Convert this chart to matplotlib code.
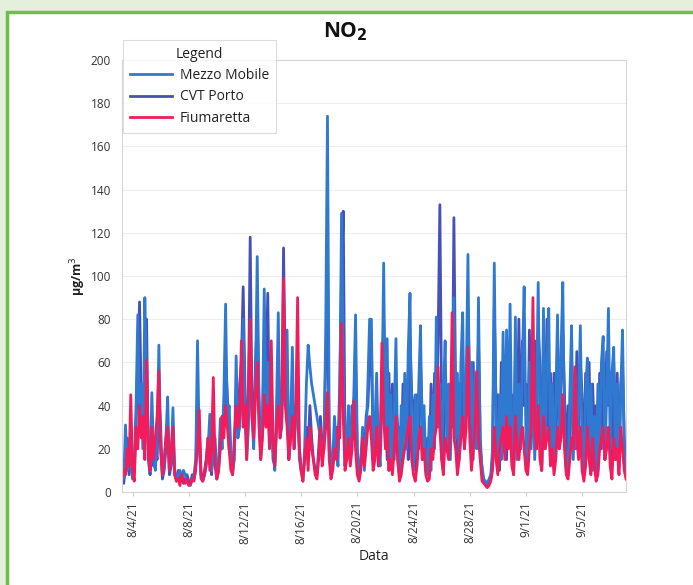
import matplotlib
matplotlib.use("Agg")
import matplotlib.pyplot as plt
import matplotlib.dates as mdates
from matplotlib.patches import Rectangle
import pandas as pd

# 3-hourly readings, from 3 Aug 2021 06:00 to 8 Sep 2021 03:00
inizio = "2021-08-03 06:00"

mezzo_mobile = [
    8, 6, 31, 10, 20, 12,                 # 8/3
    6, 15, 40, 82, 30, 50, 20, 90,        # 8/4
    50, 20, 10, 46, 15, 10, 25, 68,
    20, 8, 12, 25, 44, 10, 15, 39,
    10, 5, 8, 10, 6, 10, 8, 5,
    4, 3, 6, 8, 15, 70, 20, 6,            # 8/8
    5, 8, 12, 20, 36, 10, 15, 25,
    8, 12, 34, 20, 45, 87, 30, 40,
    20, 10, 15, 63, 25, 30, 45, 80,
    40, 15, 30, 70, 35, 20, 50, 109,      # 8/12
    45, 20, 35, 94, 40, 60, 25, 50,
    20, 10, 40, 83, 25, 30, 70, 40,
    75, 20, 30, 67, 20, 35, 52, 15,
    10, 5, 20, 50, 68, 58, 50, 45,        # 8/16
    40, 35, 30, 25, 22, 20, 75, 174,
    30, 10, 15, 35, 20, 12, 40, 129,
    60, 12, 25, 40, 15, 30, 45, 82,
    20, 8, 15, 30, 10, 25, 50, 80,        # 8/20
    80, 15, 30, 55, 20, 12, 40, 106,
    30, 71, 10, 45, 10, 35, 71, 15,
    8, 40, 15, 55, 20, 66, 92, 20,
    10, 45, 15, 50, 77, 15, 40, 10,       # 8/24
    8, 35, 10, 45, 20, 81, 30, 50,
    15, 45, 70, 20, 50, 15, 60, 90,
    25, 55, 15, 60, 83, 20, 50, 110,
    30, 60, 15, 55, 20, 90, 20, 12,       # 8/28
    6, 5, 4, 6, 8, 20, 106, 30,
    10, 45, 15, 74, 20, 75, 25, 87,
    20, 8, 81, 15, 50, 20, 60, 95,
    25, 10, 60, 20, 55, 15, 40, 97,       # 9/1
    30, 10, 85, 20, 60, 85, 15, 50,
    15, 40, 82, 20, 65, 97, 25, 10,
    8, 45, 77, 15, 55, 20, 40, 77,
    20, 8, 45, 62, 15, 50, 10, 35,        # 9/5
    8, 50, 20, 60, 72, 15, 45, 85,
    20, 55, 67, 15, 50, 10, 45, 75,
    20, 10,                               # 9/8
]

cvt_porto = [
    5, 4, 12, 25, 8, 30,
    8, 10, 30, 60, 88, 40, 30, 60,
    80, 15, 8, 30, 12, 20, 15, 45,
    30, 6, 10, 20, 30, 8, 12, 25,
    8, 6, 10, 5, 8, 4, 6, 8,
    5, 4, 8, 6, 10, 45, 30, 8,
    6, 10, 15, 25, 20, 8, 30, 15,
    6, 10, 25, 35, 30, 60, 45, 20,
    15, 8, 20, 40, 30, 50, 60, 95,
    50, 20, 45, 118, 40, 30, 60, 80,
    40, 15, 30, 70, 50, 92, 30, 40,
    15, 12, 30, 60, 30, 45, 113, 50,
    50, 15, 25, 45, 30, 40, 35, 20,
    10, 8, 15, 30, 20, 40, 25, 15,
    10, 8, 20, 35, 15, 25, 60, 90,
    20, 8, 12, 25, 30, 20, 50, 100,
    130, 20, 15, 30, 20, 40, 30, 60,
    15, 6, 12, 20, 15, 35, 40, 60,
    70, 20, 25, 40, 15, 20, 50, 80,
    45, 15, 55, 20, 50, 15, 40, 30,
    30, 10, 50, 25, 45, 15, 70, 45,
    40, 10, 45, 20, 60, 35, 25, 10,
    25, 10, 50, 20, 55, 30, 70, 133,
    40, 15, 55, 40, 25, 50, 30, 127,
    45, 15, 50, 25, 60, 35, 40, 85,
    50, 20, 60, 25, 40, 70, 25, 10,
    5, 4, 3, 5, 6, 15, 85, 40,
    45, 10, 60, 25, 55, 15, 65, 30,
    45, 10, 60, 25, 80, 20, 70, 40,
    50, 15, 75, 30, 45, 70, 20, 75,
    60, 10, 65, 40, 80, 30, 55, 15,
    55, 20, 70, 30, 50, 75, 45, 12,
    40, 15, 60, 50, 20, 65, 25, 60,
    45, 10, 55, 20, 60, 12, 50, 25,
    40, 10, 55, 20, 60, 30, 65, 40,
    50, 15, 60, 20, 55, 12, 50, 60,
    25, 15,
]

fiumaretta = [
    6, 10, 8, 20, 12, 45,
    10, 5, 30, 20, 40, 25, 35, 15,
    61, 20, 10, 30, 15, 25, 35, 56,
    20, 8, 15, 25, 30, 10, 20, 30,
    8, 5, 6, 3, 8, 5, 4, 6,
    3, 4, 6, 5, 12, 20, 38, 8,
    5, 8, 15, 25, 10, 20, 53, 12,
    6, 10, 20, 35, 25, 40, 30, 20,
    10, 8, 25, 40, 30, 35, 70, 30,
    40, 15, 50, 80, 35, 25, 45, 60,
    30, 15, 25, 45, 30, 40, 20, 70,
    25, 12, 30, 40, 25, 35, 99, 40,
    30, 15, 25, 35, 20, 40, 90, 20,
    10, 5, 15, 25, 10, 30, 20, 15,
    8, 6, 15, 30, 12, 20, 30, 46,
    15, 6, 10, 20, 15, 30, 25, 78,
    35, 10, 15, 25, 12, 20, 42, 20,
    8, 5, 10, 25, 12, 20, 30, 35,
    25, 10, 15, 30, 12, 20, 69, 35,
    20, 30, 10, 15, 8, 20, 35, 15,
    5, 8, 15, 20, 25, 30, 35, 15,
    8, 5, 12, 25, 30, 15, 20, 8,
    5, 6, 20, 15, 25, 30, 58, 30,
    15, 8, 25, 20, 15, 30, 83, 25,
    20, 8, 15, 25, 35, 20, 30, 67,
    25, 10, 20, 30, 56, 25, 15, 5,
    4, 3, 2, 3, 5, 10, 30, 15,
    8, 20, 25, 30, 15, 35, 20, 30,
    12, 8, 35, 20, 15, 25, 30, 20,
    10, 8, 20, 30, 90, 30, 20, 40,
    15, 10, 35, 20, 25, 30, 12, 20,
    8, 15, 30, 20, 25, 45, 20, 8,
    6, 15, 25, 20, 58, 25, 15, 30,
    10, 5, 12, 30, 15, 8, 25, 12,
    5, 8, 20, 25, 30, 15, 20, 30,
    12, 6, 25, 15, 20, 8, 30, 20,
    10, 6,
]

date_tick = ["2021-08-04", "2021-08-08", "2021-08-12", "2021-08-16", "2021-08-20",
             "2021-08-24", "2021-08-28", "2021-09-01", "2021-09-05"]
y_tick = [0, 20, 40, 60, 80, 100, 120, 140, 160, 180, 200]

plt.rcParams['font.family'] = ['Open Sans', 'DejaVu Sans']

tempi = pd.date_range(inizio, periods=len(mezzo_mobile), freq="3h")

fig = plt.figure(figsize=(6.93, 5.85), dpi=100)
fig.patch.set_facecolor("#e5f0dc")
# cornice verde del riquadro
cornice = Rectangle((7 / 693, -0.05), 1.1, 1 - 12 / 585 + 0.05,
                    transform=fig.transFigure, facecolor="white",
                    edgecolor="#6cc04a", linewidth=2.5, zorder=-5)
fig.patches.append(cornice)

ax = fig.add_axes([122 / 693, 1 - 492 / 585, (626 - 122) / 693, (492 - 60) / 585])
ax.set_facecolor("white")

# CVT Porto sotto, Mezzo Mobile sopra, Fiumaretta in primo piano
l_cvt, = ax.plot(tempi, cvt_porto, color="#4650b8", lw=2.0, label="CVT Porto")
l_mm, = ax.plot(tempi, mezzo_mobile, color="#2f7ad0", lw=2.0, label="Mezzo Mobile")
l_fiu, = ax.plot(tempi, fiumaretta, color="#f21c5c", lw=2.0, label="Fiumaretta")

ax.set_xlim(tempi[0], tempi[-1])
ax.set_ylim(0, 200)
ax.set_yticks(y_tick)
ax.set_xticks(pd.to_datetime(date_tick))
ax.xaxis.set_major_formatter(plt.FuncFormatter(
    lambda v, p: (lambda d: f"{d.month}/{d.day}/{d:%y}")(mdates.num2date(v))))
ax.tick_params(axis="x", rotation=90, labelsize=8.5, colors="#333333", length=3, color="#cccccc")
ax.tick_params(axis="y", labelsize=8.5, colors="#333333", length=0, pad=8)
ax.grid(axis="y", color="#eeeeee", lw=0.8)
ax.set_axisbelow(True)
for s in ax.spines.values():
    s.set_color("#d5d5d5")
    s.set_linewidth(0.8)

ax.set_ylabel("μg/m$^3$", fontsize=9, fontweight="bold", color="#222222", labelpad=2)
ax.set_xlabel("Data", fontsize=10, color="#222222", labelpad=4)
fig.text(345 / 693, 1 - 32 / 585, "NO$_\\mathbf{2}$", ha="center", va="center",
         fontsize=15, fontweight="bold", color="#111111")

leg = fig.legend(handles=[l_mm, l_cvt, l_fiu], loc="upper left",
                 bbox_to_anchor=(123 / 693, 1 - 40 / 585),
                 borderaxespad=0, title="Legend", fontsize=10, title_fontsize=10,
                 frameon=True, fancybox=False, edgecolor="#d5d5d5", handlelength=3.0,
                 borderpad=0.5, labelspacing=0.45, handletextpad=0.6)
leg.get_frame().set_linewidth(0.8)
leg.get_title().set_color("#222222")
for t in leg.get_texts():
    t.set_color("#222222")

fig.savefig("out.png", dpi=100, facecolor=fig.get_facecolor())
